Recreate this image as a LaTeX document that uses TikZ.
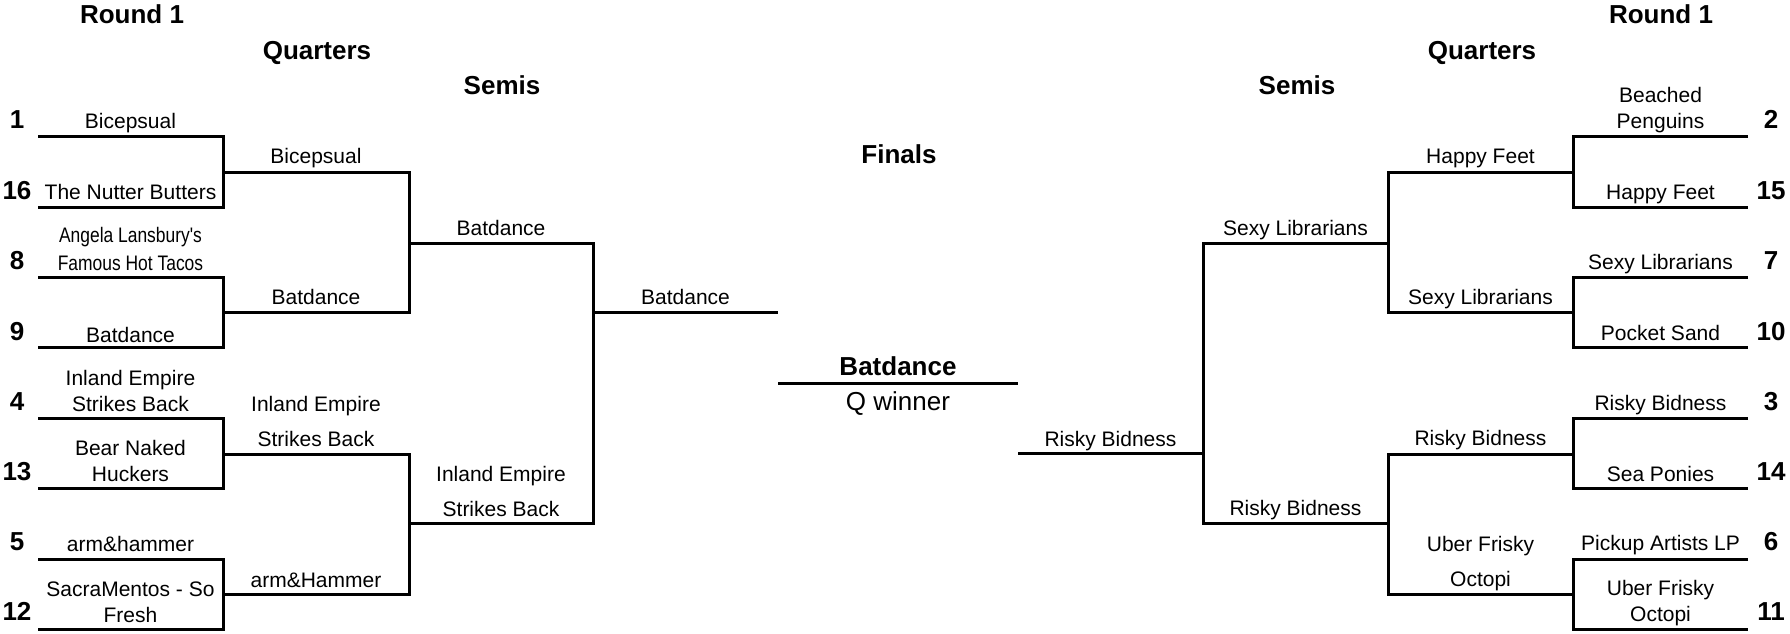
\documentclass[tikz,border=0pt]{standalone}
\usepackage{fontspec}
\setmainfont{Liberation Sans}
\newfontfamily\narrowfont[FakeStretch=0.83]{Liberation Sans}
\newcommand\twoline[2]{\parbox[b]{260pt}{\centering #1\\#2}}
\begin{document}
\begin{tikzpicture}[x=1pt,y=-1pt,
  br/.style={line width=3pt, line join=miter},
  team/.style={anchor=base, inner sep=0pt, font=\fontsize{21}{26}\selectfont},
  wide/.style={anchor=base, inner sep=0pt, font=\fontsize{21}{35}\selectfont},
  narrow/.style={anchor=base, inner sep=0pt, font=\narrowfont\fontsize{21}{27.5}\selectfont},
  seed/.style={anchor=base, inner sep=0pt, font=\fontsize{26}{30}\selectfont\bfseries},
  hdr/.style={anchor=base, inner sep=0pt, font=\fontsize{26}{30}\selectfont\bfseries},
  fin/.style={anchor=base, inner sep=0pt, font=\fontsize{26}{30}\selectfont}]
\useasboundingbox (0,0) rectangle (1790,633);

% headers
\node[hdr] (hR1l) at (132,23) {Round 1};
\node[hdr] (hR1r) at (1661,23) {Round 1};
\node[hdr] (hQl) at (317,59) {Quarters};
\node[hdr] (hQr) at (1482,59) {Quarters};
\node[hdr] (hSl) at (502,94) {Semis};
\node[hdr] (hSr) at (1297,94) {Semis};
\node[hdr] (hF) at (899,163) {Finals};

% left bracket lines
\draw[br] (38,136) -- (223,136) -- (223,207) -- (38,207);
\draw[br] (38,277) -- (223,277) -- (223,347) -- (38,347);
\draw[br] (38,418) -- (223,418) -- (223,488) -- (38,488);
\draw[br] (38,559) -- (223,559) -- (223,629) -- (38,629);
\draw[br] (223,172) -- (409,172) -- (409,312) -- (223,312);
\draw[br] (223,454) -- (409,454) -- (409,594) -- (223,594);
\draw[br] (409,243) -- (593,243) -- (593,523) -- (409,523);
\draw[br] (593,312) -- (778,312);
% center
\draw[br] (778,383) -- (1018,383);
% right bracket lines
\draw[br] (1018,453) -- (1203,453);
\draw[br] (1388,243) -- (1203,243) -- (1203,523) -- (1388,523);
\draw[br] (1573,172) -- (1388,172) -- (1388,312) -- (1573,312);
\draw[br] (1573,454) -- (1388,454) -- (1388,594) -- (1573,594);
\draw[br] (1748,136) -- (1573,136) -- (1573,207) -- (1748,207);
\draw[br] (1748,277) -- (1573,277) -- (1573,347) -- (1748,347);
\draw[br] (1748,418) -- (1573,418) -- (1573,488) -- (1748,488);
\draw[br] (1748,559) -- (1573,559) -- (1573,629) -- (1748,629);

% seeds left
\node[seed] (s1) at (17,128) {1};
\node[seed] (s16) at (17,199) {16};
\node[seed] (s8) at (17,269) {8};
\node[seed] (s9) at (17,340) {9};
\node[seed] (s4) at (17,410) {4};
\node[seed] (s13) at (17,480) {13};
\node[seed] (s5) at (17,550) {5};
\node[seed] (s12) at (17,620) {12};
% seeds right
\node[seed] (s2) at (1771,128) {2};
\node[seed] (s15) at (1771,199) {15};
\node[seed] (s7) at (1771,269) {7};
\node[seed] (s10) at (1771,340) {10};
\node[seed] (s3) at (1771,410) {3};
\node[seed] (s14) at (1771,480) {14};
\node[seed] (s6) at (1771,550) {6};
\node[seed] (s11) at (1771,620) {11};

% left round 1
\node[team] (t1) at (130.5,128) {Bicepsual};
\node[team] (t16) at (130.5,199) {The Nutter Butters};
\node[narrow] (t8) at (130.5,270) {\twoline{Angela Lansbury's}{Famous Hot Tacos}};
\node[team] (t9) at (130.5,342) {Batdance};
\node[team] (t4) at (130.5,411) {\twoline{Inland Empire}{Strikes Back}};
\node[team] (t13) at (130.5,481) {\twoline{Bear Naked}{Huckers}};
\node[team] (t5) at (130.5,551) {arm\&hammer};
\node[team] (t12) at (130.5,622) {\twoline{SacraMentos - So}{Fresh}};
% left quarters
\node[team] (q1) at (316,163) {Bicepsual};
\node[team] (q2) at (316,304) {Batdance};
\node[wide] (q3) at (316,446) {\twoline{Inland Empire}{Strikes Back}};
\node[team] (q4) at (316,587) {arm\&Hammer};
% left semis
\node[team] (sl1) at (501,235) {Batdance};
\node[wide] (sl2) at (501,516) {\twoline{Inland Empire}{Strikes Back}};
% left final
\node[team] (fl) at (685.5,304) {Batdance};
% champion
\node[hdr] (champ) at (898,375) {Batdance};
\node[fin] (qw) at (898,410) {Q winner};
% right final
\node[team] (fr) at (1110.5,446) {Risky Bidness};
% right semis
\node[team] (sr1) at (1295.5,235) {Sexy Librarians};
\node[team] (sr2) at (1295.5,515) {Risky Bidness};
% right quarters
\node[team] (rq1) at (1480.5,163) {Happy Feet};
\node[team] (rq2) at (1480.5,304) {Sexy Librarians};
\node[team] (rq3) at (1480.5,445) {Risky Bidness};
\node[wide] (rq4) at (1480.5,586) {\twoline{Uber Frisky}{Octopi}};
% right round 1
\node[team] (t2) at (1660.5,128) {\twoline{Beached}{Penguins}};
\node[team] (t15) at (1660.5,199) {Happy Feet};
\node[team] (t7) at (1660.5,269) {Sexy Librarians};
\node[team] (t10) at (1660.5,340) {Pocket Sand};
\node[team] (t3) at (1660.5,410) {Risky Bidness};
\node[team] (t14) at (1660.5,481) {Sea Ponies};
\node[team] (t6) at (1660.5,550) {Pickup Artists LP};
\node[team] (t11) at (1660.5,621) {\twoline{Uber Frisky}{Octopi}};
\end{tikzpicture}
\end{document}
